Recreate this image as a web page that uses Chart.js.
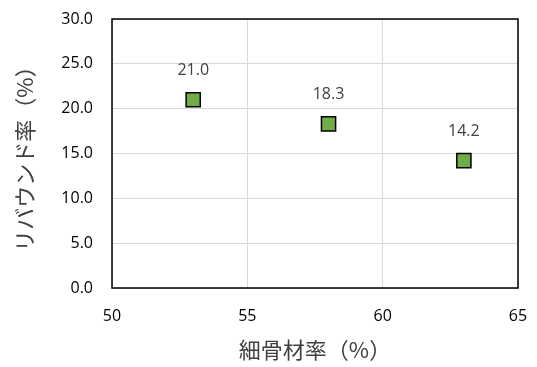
<!DOCTYPE html>
<html>
<head>
<meta charset="utf-8">
<script src="https://cdn.jsdelivr.net/npm/chart.js@4/dist/chart.umd.min.js"></script>
<style>
  html, body { margin: 0; padding: 0; background: #fff; }
  #wrap { width: 537px; height: 367px; }
</style>
</head>
<body>
<div id="wrap"><canvas id="scatterChart" width="537" height="367"></canvas></div>
<script>
// fine aggregate ratio (%) vs rebound ratio (%)
const fineRatio = [53, 58, 63];
const reboundRatio = [21.0, 18.3, 14.2];
const xTitle = '細骨材率（%）';
const yTitle = 'リバウンド率（%）';

const points = fineRatio.map((x, i) => ({ x: x, y: reboundRatio[i] }));

// frame around the plot area, value labels over each marker
const framePlugin = {
  id: 'frame',
  afterDatasetsDraw(chart) {
    const { ctx, chartArea: a } = chart;
    ctx.save();
    ctx.strokeStyle = '#000';
    ctx.lineWidth = 1.5;
    ctx.strokeRect(a.left, a.top, a.right - a.left, a.bottom - a.top);

    ctx.fillStyle = '#404040';
    ctx.font = '16px "Open Sans", "Liberation Sans", sans-serif';
    ctx.textAlign = 'center';
    ctx.textBaseline = 'middle';
    chart.getDatasetMeta(0).data.forEach((pt, i) => {
      ctx.fillText(reboundRatio[i].toFixed(1), pt.x, pt.y - 29);
    });
    ctx.restore();
  }
};

const tickFont = { family: '"Open Sans", "Liberation Sans", sans-serif', size: 16 };
const titleFont = { family: '"Noto Sans CJK JP", sans-serif', size: 22, lineHeight: 1.2 };

new Chart(document.getElementById('scatterChart'), {
  type: 'scatter',
  data: {
    datasets: [{
      data: points,
      pointStyle: 'rect',
      pointRadius: 10,
      pointHoverRadius: 10,
      backgroundColor: '#70AD47',
      borderColor: '#000',
      borderWidth: 1.5
    }]
  },
  options: {
    responsive: false,
    animation: false,
    layout: { padding: { top: 19, right: 19, left: 0, bottom: 0 } },
    plugins: { legend: { display: false }, tooltip: { enabled: false } },
    scales: {
      x: {
        min: 50, max: 65,
        ticks: { stepSize: 5, color: '#000', font: tickFont, padding: 19 },
        grid: { color: '#d9d9d9', lineWidth: 1, drawTicks: false },
        border: { display: false },
        title: { display: true, text: xTitle, color: '#404040', font: titleFont, padding: { top: 6 } },
        afterFit(axis) {
          axis.height = 79;
          axis.paddingLeft = 0;
          axis.paddingRight = 0;
        }
      },
      y: {
        min: 0, max: 30,
        ticks: {
          stepSize: 5, color: '#000', font: tickFont, padding: 19,
          callback: v => v.toFixed(1)
        },
        grid: { color: '#d9d9d9', lineWidth: 1, drawTicks: false },
        border: { display: false },
        title: { display: true, text: yTitle, color: '#404040', font: titleFont, padding: { top: 11, bottom: 0 } },
        afterFit(axis) {
          axis.width = 112;
          axis.paddingTop = 0;
          axis.paddingBottom = 0;
        }
      }
    }
  },
  plugins: [framePlugin]
});
</script>
</body>
</html>
